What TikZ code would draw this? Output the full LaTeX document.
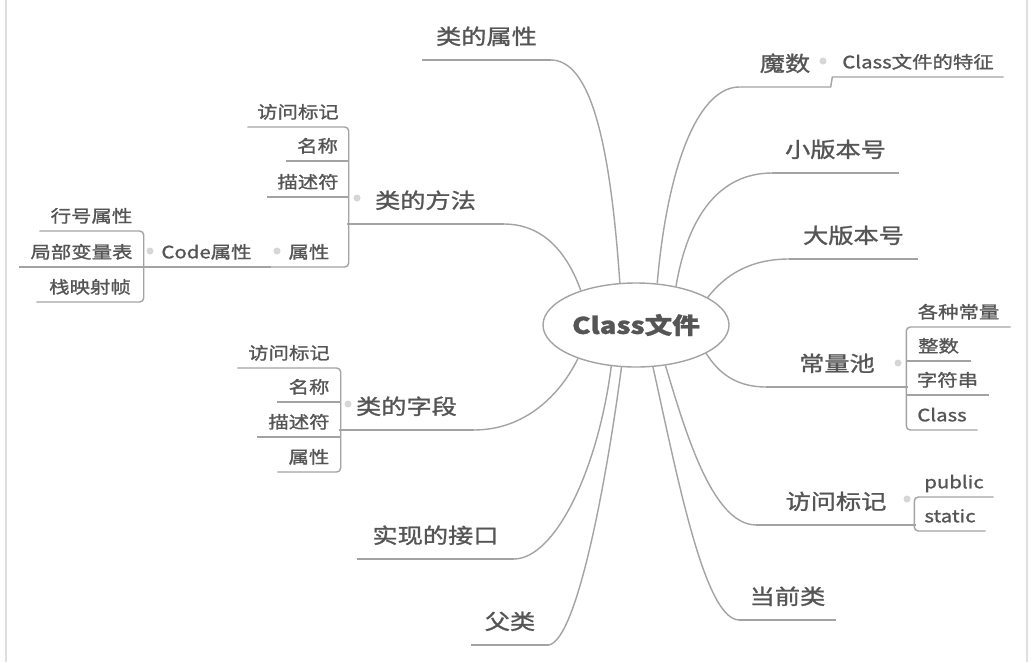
\documentclass[tikz,border=0pt]{standalone}
\usepackage{fontspec}
\setmainfont{Noto Sans CJK SC}[FakeStretch=1.2, FakeBold=1.2]
\usetikzlibrary{shapes.geometric}
\definecolor{ink}{HTML}{555555}
\definecolor{wire}{HTML}{A3A3A3}
\begin{document}
\begin{tikzpicture}[x=1pt, y=-1pt, line width=1.4pt,
  hub/.style={draw=wire, fill=white, shape=ellipse, minimum width=186pt, minimum height=84pt, inner sep=0pt, text=ink, font=\fontsize{23}{27}\selectfont\bfseries},
  topic/.style={anchor=south, inner xsep=0pt, inner ysep=15pt, text depth=0pt, text=ink, font=\fontsize{21}{25}\selectfont},
  leaf/.style={anchor=south, inner xsep=0pt, inner ysep=8pt, text depth=0pt, text=ink, font=\fontsize{17}{20}\selectfont},
  knob/.style={circle, fill=wire!45, inner sep=0pt, minimum size=7pt}]
%        \draw[help lines] (0,0) grid (1032,662);
        \fill[white] (0,0) rectangle (1032,662);
        \useasboundingbox (0,0) rectangle (1032,662);
        \draw[gray!25] (6,0) -- (6,662);\draw[gray!25] (1027,0) -- (1027,662);

        \node[hub] (cf) at (636,325) {Class文件};

        % left side
        \node[topic, minimum width=127pt] (attr) at (486.5,60) {类的属性};
        \node[topic, minimum width=155pt] (meth) at (425.5,224) {类的方法};
        \node[topic, minimum width=133pt] (fld) at (406.5,430) {类的字段};
        \node[topic, minimum width=155pt] (intf) at (435.5,559) {实现的接口};
        \node[topic, minimum width=76pt] (parent) at (510,645) {父类};

        \node[leaf, minimum width=100pt] (m1) at (298,127) {访问标记};\node[leaf, minimum width=61pt] (m2) at (317.5,161) {名称};
        \node[leaf, minimum width=80pt] (m3) at (308,197) {描述符};\node[leaf, minimum width=78pt] (m4) at (309,267) {属性};
        \node[leaf, minimum width=127pt] (code) at (206.5,267) {Code属性};
        \node[leaf, minimum width=103pt] (c1) at (91.5,231) {行号属性};\node[leaf, minimum width=123pt] (c2) at (81.5,267) {局部变量表};
        \node[leaf, minimum width=106pt] (c3) at (90,302) {栈映射帧};

        \node[leaf, minimum width=102pt] (f1) at (289,368) {访问标记};\node[leaf, minimum width=62pt] (f2) at (309,402) {名称};
        \node[leaf, minimum width=82pt] (f3) at (299,437) {描述符};\node[leaf, minimum width=62pt] (f4) at (309,472) {属性};

        % right side
        \node[topic, minimum width=90pt] (magic) at (785,87) {魔数};
        \node[leaf, minimum width=170pt] (feat) at (918,77) {Class文件的特征};
        \node[topic, minimum width=125pt] (minor) at (835.5,173) {小版本号};
        \node[topic, minimum width=127pt] (major) at (853.5,259) {大版本号};
        \node[topic, minimum width=140pt] (pool) at (837,387) {常量池};
        \node[topic, minimum width=158pt] (acc) at (836,525) {访问标记};
        \node[topic, minimum width=95pt] (cur) at (787.5,620) {当前类};

        \node[leaf, minimum width=103pt] (p1) at (958.5,327) {各种常量};\node[leaf, minimum width=63pt] (p2) at (938.5,361) {整数};
        \node[leaf, minimum width=81pt] (p3) at (947.5,395) {字符串};\node[leaf, minimum width=70pt] (p4) at (942,430) {Class};
        \node[leaf, minimum width=78pt] (a1) at (954,497) {public};\node[leaf, minimum width=70pt] (a2) at (950,531) {static};

        \node[knob] (k1) at (357,198) {};\node[knob] (k2) at (277,251) {};\node[knob] (k3) at (150,251) {};
        \node[knob] (k4) at (348,404) {};\node[knob] (k5) at (823,61) {};\node[knob] (k6) at (898,363) {};
        \node[knob] (k7) at (907,499) {};

        \begin{scope}[draw=wire]
        \draw (attr.south west) -- (attr.south east);\draw (meth.south west) -- (meth.south east);\draw (fld.south west) -- (fld.south east);
        \draw (intf.south west) -- (intf.south east);\draw (parent.south west) -- (parent.south east);
        \draw (minor.south west) -- (minor.south east);\draw (major.south west) -- (major.south east);
        \draw (pool.south west) -- (pool.south east);\draw (acc.south west) -- (acc.south east);\draw (cur.south west) -- (cur.south east);
        \draw (magic.south west) -- (magic.south east) -- (feat.south west) -- (feat.south east);

        \draw (attr.south east) .. controls (590,60) and (610,140) .. (cf.111);
        \draw (meth.south east) .. controls (545,224) and (568,255) .. (cf.148);
        \draw (fld.south east) .. controls (525,430) and (560,395) .. (cf.210);
        \draw (intf.south east) .. controls (555,559) and (598,470) .. (cf.239);
        \draw (parent.south east) .. controls (578,640) and (608,470) .. (cf.251);
        \draw (magic.south west) .. controls (700,87) and (668,160) .. (cf.63);
        \draw (minor.south west) .. controls (720,173) and (688,215) .. (cf.44);
        \draw (major.south west) .. controls (750,259) and (725,275) .. (cf.21);
        \draw (pool.south west) .. controls (735,387) and (718,372) .. (cf.338);
        \draw (acc.south west) .. controls (712,525) and (685,430) .. (cf.306);
        \draw (cur.south west) .. controls (705,620) and (678,480) .. (cf.292);

        \draw[rounded corners=4pt] (m1.south west) -- (m1.south east) -- (m4.south east) -- (m4.south west);
        \draw (m2.south west) -- (m2.south east);\draw (m3.south west) -- (m3.south east);\draw (code.south west) -- (code.south east);
        \draw[rounded corners=4pt] (c1.south west) -- (c1.south east) -- (c3.south east) -- (c3.south west);
        \draw (c2.south west) -- (c2.south east);
        \draw[rounded corners=4pt] (f1.south west) -- (f1.south east) -- (f4.south east) -- (f4.south west);
        \draw (f2.south west) -- (f2.south east);\draw (f3.south west) -- (f3.south east);
        \draw[rounded corners=4pt] (p1.south east) -- (p1.south west) -- (p4.south west) -- (p4.south east);
        \draw (p2.south west) -- (p2.south east);\draw (p3.south west) -- (p3.south east);
        \draw[rounded corners=4pt] (a1.south east) -- (a1.south west) -- (a2.south west) -- (a2.south east);
        \end{scope}
    \end{tikzpicture}
\end{document}
